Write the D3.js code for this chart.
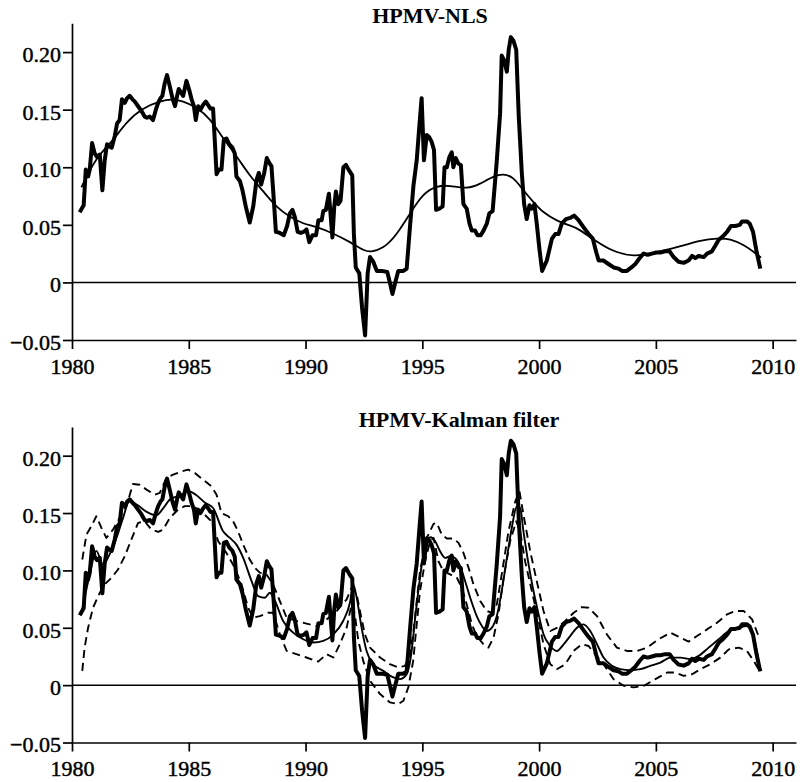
<!DOCTYPE html>
<html>
<head>
<meta charset="utf-8">
<script src="https://cdn.jsdelivr.net/npm/d3@7"></script>
<style>
  body { margin: 0; background: #fff; }
  svg text { font-family: "Liberation Serif", "Times New Roman", serif; fill: #000; }
</style>
</head>
<body>
<svg width="800" height="782"></svg>
<script>
// year ticks / value ticks
const yearTicks = [1980, 1985, 1990, 1995, 2000, 2005, 2010]
const valueTicks = [-0.05, 0, 0.05, 0.10, 0.15, 0.20]
const valueLabels = ["\u22120.05", "0", "0.05", "0.10", "0.15", "0.20"]
const titles = ["HPMV-NLS", "HPMV-Kalman filter"]

// HPMV (thick line, same in both panels)
const hpmv = [[1980.33,0.061],[1980.5,0.067],[1980.59,0.098],[1980.69,0.092],[1980.76,0.098],[1980.86,0.121],[1980.97,0.112],[1981.07,0.109],[1981.19,0.111],[1981.3,0.080],[1981.4,0.106],[1981.5,0.120],[1981.6,0.118],[1981.7,0.117],[1981.83,0.127],[1981.93,0.138],[1982.04,0.141],[1982.14,0.159],[1982.26,0.156],[1982.36,0.160],[1982.47,0.162],[1982.59,0.159],[1982.69,0.157],[1982.83,0.153],[1982.97,0.149],[1983.11,0.144],[1983.21,0.143],[1983.33,0.144],[1983.47,0.141],[1983.59,0.150],[1983.69,0.156],[1983.79,0.160],[1983.87,0.162],[1983.97,0.173],[1984.07,0.180],[1984.19,0.170],[1984.3,0.160],[1984.41,0.153],[1984.5,0.162],[1984.57,0.168],[1984.66,0.165],[1984.76,0.162],[1984.9,0.175],[1985.02,0.167],[1985.12,0.159],[1985.22,0.153],[1985.3,0.141],[1985.4,0.153],[1985.5,0.150],[1985.61,0.154],[1985.73,0.157],[1985.83,0.154],[1985.93,0.151],[1986.04,0.151],[1986.12,0.121],[1986.19,0.094],[1986.29,0.098],[1986.4,0.098],[1986.5,0.124],[1986.61,0.125],[1986.73,0.120],[1986.87,0.117],[1986.97,0.112],[1987.04,0.092],[1987.19,0.088],[1987.3,0.080],[1987.44,0.066],[1987.61,0.052],[1987.76,0.066],[1987.9,0.089],[1988.0,0.095],[1988.1,0.085],[1988.23,0.095],[1988.34,0.108],[1988.44,0.104],[1988.54,0.101],[1988.64,0.072],[1988.73,0.044],[1988.9,0.043],[1989.07,0.041],[1989.21,0.049],[1989.33,0.060],[1989.44,0.063],[1989.54,0.057],[1989.66,0.044],[1989.8,0.043],[1989.93,0.044],[1990.04,0.046],[1990.16,0.035],[1990.3,0.041],[1990.45,0.041],[1990.55,0.054],[1990.69,0.054],[1990.76,0.062],[1990.87,0.063],[1991.0,0.077],[1991.15,0.039],[1991.23,0.066],[1991.3,0.079],[1991.4,0.068],[1991.5,0.071],[1991.62,0.100],[1991.73,0.102],[1991.87,0.097],[1992.0,0.093],[1992.07,0.042],[1992.15,0.013],[1992.3,0.008],[1992.42,-0.022],[1992.55,-0.046],[1992.66,0.008],[1992.76,0.022],[1992.9,0.018],[1993.05,0.010],[1993.26,0.010],[1993.5,0.009],[1993.62,-0.001],[1993.72,-0.010],[1993.83,-0.001],[1993.97,0.010],[1994.19,0.010],[1994.33,0.012],[1994.47,0.048],[1994.62,0.084],[1994.76,0.106],[1994.87,0.135],[1994.97,0.160],[1995.07,0.106],[1995.19,0.128],[1995.3,0.126],[1995.4,0.122],[1995.5,0.115],[1995.59,0.063],[1995.73,0.064],[1995.87,0.066],[1995.95,0.100],[1996.05,0.100],[1996.16,0.109],[1996.26,0.113],[1996.33,0.100],[1996.43,0.108],[1996.55,0.103],[1996.65,0.102],[1996.76,0.068],[1996.9,0.064],[1997.02,0.051],[1997.12,0.045],[1997.26,0.045],[1997.36,0.041],[1997.5,0.041],[1997.62,0.045],[1997.76,0.051],[1997.87,0.060],[1998.01,0.062],[1998.19,0.106],[1998.33,0.147],[1998.4,0.197],[1998.5,0.193],[1998.62,0.183],[1998.7,0.202],[1998.79,0.213],[1998.9,0.210],[1999.02,0.202],[1999.13,0.144],[1999.26,0.095],[1999.36,0.068],[1999.47,0.055],[1999.59,0.067],[1999.69,0.064],[1999.8,0.068],[1999.9,0.051],[2000.02,0.028],[2000.13,0.010],[2000.33,0.019],[2000.55,0.038],[2000.69,0.042],[2000.83,0.042],[2000.97,0.051],[2001.15,0.055],[2001.33,0.056],[2001.5,0.058],[2001.69,0.054],[2001.9,0.048],[2002.12,0.042],[2002.3,0.038],[2002.45,0.026],[2002.55,0.019],[2002.76,0.019],[2002.97,0.016],[2003.19,0.013],[2003.4,0.012],[2003.55,0.010],[2003.76,0.010],[2003.95,0.013],[2004.12,0.016],[2004.3,0.021],[2004.47,0.025],[2004.65,0.024],[2004.83,0.025],[2005.02,0.026],[2005.19,0.026],[2005.4,0.027],[2005.59,0.027],[2005.76,0.022],[2005.97,0.018],[2006.19,0.017],[2006.4,0.019],[2006.55,0.023],[2006.69,0.021],[2006.83,0.023],[2007.05,0.022],[2007.19,0.025],[2007.4,0.027],[2007.55,0.032],[2007.69,0.037],[2007.87,0.040],[2008.05,0.044],[2008.22,0.049],[2008.4,0.049],[2008.59,0.050],[2008.69,0.053],[2008.9,0.053],[2009.02,0.051],[2009.16,0.044],[2009.3,0.028],[2009.47,0.012]]

// NLS trend (thin smooth line, top panel)
const nlsTrend = [[1980.4,0.0825],[1981.04,0.1065],[1981.76,0.124],[1982.33,0.1384],[1983.04,0.1506],[1983.76,0.157],[1984.26,0.1587],[1984.76,0.157],[1985.33,0.1514],[1985.9,0.1413],[1986.47,0.1254],[1987.04,0.1096],[1987.6,0.0935],[1988.19,0.079],[1988.76,0.066],[1989.33,0.0572],[1989.9,0.0514],[1990.47,0.048],[1991.19,0.0423],[1991.9,0.035],[1992.47,0.0284],[1992.83,0.027],[1993.33,0.0307],[1993.9,0.0423],[1994.47,0.0597],[1995.04,0.0756],[1995.62,0.0829],[1996.19,0.0837],[1996.9,0.0823],[1997.47,0.0858],[1998.04,0.0916],[1998.47,0.0936],[1998.9,0.0901],[1999.33,0.08],[1999.76,0.0698],[2000.19,0.0611],[2000.76,0.0539],[2001.3,0.0495],[2001.76,0.0452],[2002.62,0.0336],[2003.33,0.0264],[2004.05,0.0235],[2004.76,0.025],[2005.47,0.0284],[2006.19,0.0322],[2006.9,0.036],[2007.62,0.038],[2008.19,0.0371],[2008.76,0.0322],[2009.19,0.0264],[2009.5,0.0215]]

// Kalman filter estimate and its bands (bottom panel)
const kalman = [[1980.4,0.062],[1980.76,0.0965],[1981.04,0.117],[1981.33,0.105],[1981.61,0.114],[1981.9,0.128],[1982.19,0.146],[1982.45,0.160],[1982.8,0.157],[1983.2,0.151],[1983.6,0.148],[1983.9,0.154],[1984.2,0.162],[1984.6,0.165],[1985.0,0.169],[1985.3,0.166],[1985.7,0.159],[1986.04,0.1544],[1986.47,0.1341],[1986.76,0.1283],[1987.04,0.1225],[1987.33,0.111],[1987.69,0.0907],[1987.97,0.0776],[1988.26,0.0762],[1988.47,0.0805],[1988.69,0.0733],[1989.04,0.0559],[1989.47,0.0458],[1989.9,0.040],[1990.33,0.0371],[1990.76,0.0385],[1991.19,0.0443],[1991.61,0.0559],[1991.9,0.0718],[1992.04,0.0878],[1992.19,0.0762],[1992.4,0.0501],[1992.61,0.0299],[1992.9,0.0183],[1993.33,0.0124],[1993.76,0.0067],[1994.04,0.0052],[1994.33,0.0096],[1994.48,0.021],[1994.76,0.0704],[1994.98,0.1052],[1995.19,0.1254],[1995.36,0.1289],[1995.55,0.1254],[1995.76,0.1167],[1995.98,0.1109],[1996.19,0.1124],[1996.4,0.1109],[1996.62,0.1037],[1996.83,0.0907],[1997.05,0.0762],[1997.33,0.0602],[1997.55,0.0515],[1997.76,0.0472],[1997.98,0.0501],[1998.19,0.0602],[1998.4,0.082],[1998.62,0.1109],[1998.83,0.137],[1999.05,0.1559],[1999.19,0.1544],[1999.33,0.1341],[1999.55,0.1052],[1999.76,0.082],[1999.98,0.0617],[2000.19,0.0443],[2000.48,0.0341],[2000.76,0.0298],[2001.05,0.0356],[2001.33,0.0428],[2001.62,0.0501],[2001.9,0.053],[2002.19,0.0472],[2002.48,0.0356],[2002.76,0.024],[2003.12,0.0168],[2003.48,0.0139],[2003.9,0.013],[2004.33,0.0139],[2004.76,0.0168],[2005.19,0.0197],[2005.62,0.024],[2006.05,0.024],[2006.48,0.0226],[2006.83,0.0255],[2007.26,0.0327],[2007.69,0.04],[2008.12,0.0472],[2008.55,0.0501],[2008.9,0.0515],[2009.19,0.0414],[2009.4,0.0211]]

const kalmanUpper = [[1980.44,0.1095],[1980.62,0.1313],[1980.83,0.1385],[1981.04,0.1472],[1981.26,0.1371],[1981.47,0.1283],[1981.76,0.1356],[1982.04,0.1458],[1982.33,0.1559],[1982.61,0.1753],[1982.9,0.1747],[1983.19,0.1704],[1983.54,0.166],[1983.76,0.1675],[1984.04,0.1805],[1984.33,0.1834],[1984.69,0.1863],[1984.97,0.1878],[1985.26,0.1849],[1985.61,0.1791],[1985.97,0.1733],[1986.19,0.166],[1986.4,0.15],[1986.69,0.1472],[1986.9,0.1428],[1987.11,0.1341],[1987.33,0.1225],[1987.61,0.1095],[1987.83,0.1023],[1988.04,0.098],[1988.33,0.0965],[1988.61,0.0878],[1988.9,0.0733],[1989.19,0.0588],[1989.61,0.0559],[1990.04,0.0536],[1990.47,0.0515],[1990.9,0.0573],[1991.33,0.0646],[1991.76,0.0748],[1991.97,0.0849],[1992.19,0.0791],[1992.33,0.0646],[1992.54,0.0443],[1992.76,0.0327],[1993.19,0.0241],[1993.61,0.0183],[1993.97,0.0154],[1994.26,0.0168],[1994.47,0.027],[1994.62,0.047],[1994.9,0.0994],[1995.19,0.1283],[1995.48,0.1405],[1995.62,0.1414],[1995.83,0.1313],[1996.05,0.1278],[1996.33,0.1278],[1996.55,0.124],[1996.76,0.1153],[1996.98,0.1023],[1997.19,0.0878],[1997.48,0.0733],[1997.76,0.0646],[1997.98,0.0631],[1998.19,0.0704],[1998.4,0.0965],[1998.69,0.1341],[1998.98,0.1602],[1999.16,0.1689],[1999.33,0.1486],[1999.62,0.1167],[1999.9,0.0907],[2000.19,0.0646],[2000.48,0.0472],[2000.76,0.05],[2001.12,0.0559],[2001.48,0.0631],[2001.83,0.068],[2002.12,0.0675],[2002.48,0.0602],[2002.9,0.0443],[2003.33,0.0327],[2003.76,0.0298],[2004.19,0.0298],[2004.62,0.0327],[2005.12,0.04],[2005.62,0.0457],[2006.05,0.0414],[2006.4,0.0379],[2006.76,0.0428],[2007.19,0.0486],[2007.62,0.0544],[2008.05,0.0617],[2008.4,0.0646],[2008.76,0.0646],[2009.12,0.0573],[2009.45,0.04]]

const kalmanLower = [[1980.44,0.0124],[1980.54,0.0327],[1980.69,0.0501],[1980.9,0.0675],[1981.19,0.0805],[1981.4,0.0878],[1981.69,0.0936],[1981.97,0.1008],[1982.26,0.1124],[1982.54,0.1269],[1982.83,0.1414],[1983.11,0.1428],[1983.4,0.1356],[1983.69,0.1336],[1983.9,0.1356],[1984.19,0.1458],[1984.54,0.153],[1984.83,0.156],[1985.19,0.156],[1985.61,0.15],[1985.97,0.1428],[1986.26,0.1254],[1986.61,0.1153],[1986.97,0.1023],[1987.26,0.0878],[1987.54,0.0675],[1987.76,0.0588],[1988.04,0.0602],[1988.4,0.0631],[1988.61,0.0631],[1988.9,0.0443],[1989.19,0.0299],[1989.61,0.027],[1990.04,0.0241],[1990.54,0.0205],[1990.9,0.027],[1991.19,0.0241],[1991.47,0.0357],[1991.76,0.0501],[1991.97,0.0704],[1992.11,0.0617],[1992.26,0.0385],[1992.47,0.0211],[1992.76,0.0038],[1993.19,-0.0078],[1993.61,-0.015],[1993.97,-0.0165],[1994.19,-0.0136],[1994.4,-0.002],[1994.61,0.0212],[1994.69,0.0385],[1994.9,0.082],[1995.12,0.108],[1995.33,0.1254],[1995.48,0.1283],[1995.69,0.108],[1995.9,0.0994],[1996.19,0.0965],[1996.48,0.0936],[1996.69,0.0849],[1996.9,0.0704],[1997.12,0.053],[1997.33,0.0428],[1997.62,0.0356],[1997.83,0.0327],[1998.05,0.0414],[1998.26,0.0617],[1998.48,0.0936],[1998.76,0.1254],[1999.02,0.1428],[1999.19,0.1341],[1999.4,0.108],[1999.69,0.082],[1999.98,0.0559],[2000.19,0.0356],[2000.48,0.0182],[2000.76,0.0138],[2001.12,0.0182],[2001.48,0.0298],[2001.83,0.0356],[2002.12,0.0341],[2002.4,0.0269],[2002.76,0.0182],[2003.19,0.0052],[2003.62,-0.0006],[2004.05,-0.002],[2004.48,-0.0006],[2004.98,0.0052],[2005.48,0.011],[2005.83,0.011],[2006.19,0.0081],[2006.55,0.0095],[2006.9,0.0138],[2007.33,0.0182],[2007.76,0.024],[2008.12,0.0312],[2008.55,0.0327],[2008.9,0.0298],[2009.19,0.0211],[2009.4,0.0138]]

const svg = d3.select("svg")

const xScale = d3.scaleLinear()
  .domain([1980, 2011])
  .range([72, 796])

function panel(top, bottom, title, titleX, lines) {
  const yScale = d3.scaleLinear()
    .domain([-0.05, 0.225])
    .range([bottom, top])

  const g = svg.append("g")

  // zero line
  g.append("line")
    .attr("x1", xScale(1980)).attr("x2", xScale(2011))
    .attr("y1", yScale(0)).attr("y2", yScale(0))
    .style("stroke", "#000").style("stroke-width", "1.5px")

  lines.forEach(l => {
    const line = d3.line()
      .x(d => xScale(d[0]))
      .y(d => yScale(d[1]))
      .curve(l.curve || d3.curveLinear)
    g.append("path")
      .datum(l.data)
      .attr("d", line)
      .style("fill", "none")
      .style("stroke", "#000")
      .style("stroke-width", l.width + "px")
      .style("stroke-linejoin", "round")
      .style("stroke-dasharray", l.dash || null)
  })

  const yAxis = d3.axisLeft(yScale)
    .tickValues(valueTicks)
    .tickFormat((d, i) => valueLabels[i])
    .tickSize(9)
    .tickSizeOuter(0)
    .tickPadding(2)

  const xAxis = d3.axisBottom(xScale)
    .tickValues(yearTicks)
    .tickFormat(d3.format("d"))
    .tickSize(9)
    .tickSizeOuter(0)
    .tickPadding(9)

  const ya = g.append("g")
    .attr("transform", `translate(${xScale(1980)},0)`)
    .call(yAxis)
  ya.selectAll("text").attr("dy", "0.43em")

  const xa = g.append("g")
    .attr("transform", `translate(0,${bottom})`)
    .call(xAxis)

  ;[ya, xa].forEach(a => {
    a.selectAll("path, line").style("stroke", "#000").style("stroke-width", "1.7px")
    a.selectAll("text")
      .style("font-family", '"Liberation Serif", serif')
      .style("font-size", "22px")
      .style("fill", "#000")
      .style("stroke", "#000")
      .style("stroke-width", "0.45px")
  })

  g.append("text")
    .attr("x", titleX)
    .attr("y", top)
    .attr("text-anchor", "middle")
    .style("font-size", "22px")
    .style("font-weight", "bold")
    .text(title)
}

panel(23.3, 340, titles[0], 430, [
  { data: nlsTrend, width: 1.8, curve: d3.curveNatural },
  { data: hpmv, width: 4 }
])

panel(427, 742.5, titles[1], 459, [
  { data: hpmv, width: 4 },
  { data: kalman, width: 1.9, curve: d3.curveMonotoneX },
  { data: kalmanUpper, width: 1.9, dash: "8,5" },
  { data: kalmanLower, width: 1.9, dash: "8,5" }
])
</script>
</body>
</html>
